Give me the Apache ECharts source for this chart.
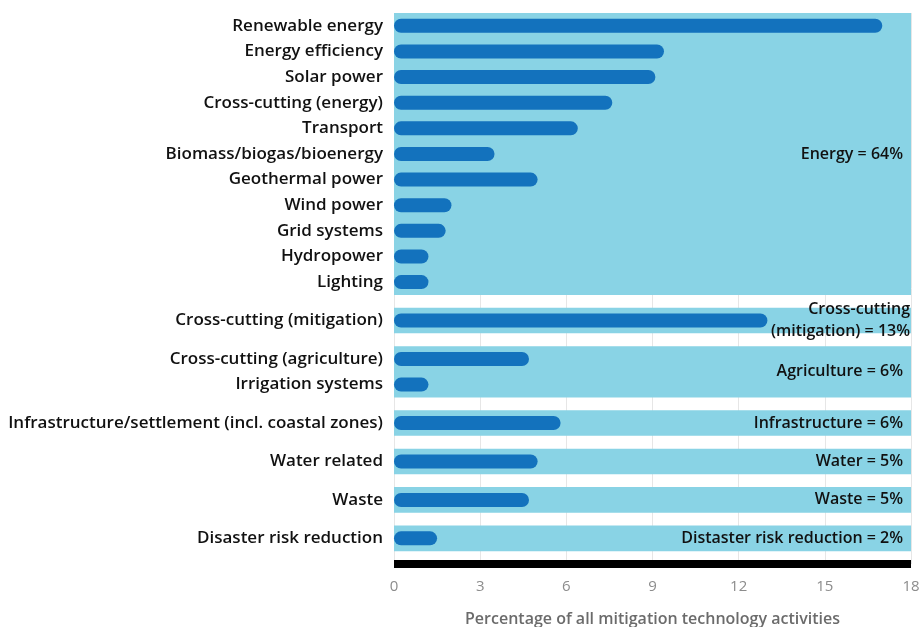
<!DOCTYPE html>
<html>
<head>
<meta charset="utf-8">
<script src="https://cdn.jsdelivr.net/npm/echarts@6/dist/echarts.min.js"></script>
<style>
  html, body { margin: 0; padding: 0; background: #fff; }
  #chart { width: 923px; height: 627px; }
</style>
</head>
<body>
<div id="chart"></div>
<script>
// technology categories, top to bottom
const categories = [
  'Renewable energy', 'Energy efficiency', 'Solar power', 'Cross-cutting (energy)',
  'Transport', 'Biomass/biogas/bioenergy', 'Geothermal power', 'Wind power',
  'Grid systems', 'Hydropower', 'Lighting',
  'Cross-cutting (mitigation)',
  'Cross-cutting (agriculture)', 'Irrigation systems',
  'Infrastructure/settlement (incl. coastal zones)',
  'Water related',
  'Waste',
  'Disaster risk reduction'
]
const values = [17.0, 9.4, 9.1, 7.6, 6.4, 3.5, 5.0, 2.0, 1.8, 1.2, 1.2, 13.0, 4.7, 1.2, 5.8, 5.0, 4.7, 1.5]

// sectors: how many categories each one holds, and its label
const groupSizes = [11, 1, 2, 1, 1, 1, 1]
const groupLabels = [
  'Energy = 64%',
  'Cross-cutting\n(mitigation) = 13%',
  'Agriculture = 6%',
  'Infrastructure = 6%',
  'Water = 5%',
  'Waste = 5%',
  'Distaster risk reduction = 2%'
]

const xMin = 0
const xMax = 18
const xStep = 3

const FONT = '"Open Sans", sans-serif'
const barColor = '#1372bd'
const bandColor = '#89d3e5'

// slot positions on the y axis: one unit per bar, half a unit between sectors
const positions = []
const bands = []
let cursor = 0
groupSizes.forEach((n) => {
  const start = cursor
  for (let i = 0; i < n; i++) {
    positions.push(cursor + 0.5)
    cursor += 1
  }
  bands.push([start, cursor])
  cursor += 0.5
})
const yMax = cursor

const labelFor = (v) => {
  const i = positions.findIndex((p) => Math.abs(p - v) < 0.01)
  return i >= 0 ? categories[i] : ''
}

const chart = echarts.init(document.getElementById('chart'))

const option = {
  backgroundColor: '#fff',
  animation: false,
  grid: {
    left: 394,
    right: 12,
    top: 13,
    bottom: 63,
    containLabel: false,
    outerBoundsMode: 'none'
  },
  xAxis: {
    type: 'value',
    position: 'bottom',
    min: xMin,
    max: xMax,
    interval: xStep,
    name: 'Percentage of all mitigation technology activities',
    nameLocation: 'middle',
    nameGap: 47,
    nameTextStyle: {
      fontFamily: FONT,
      fontSize: 16,
      fontWeight: 600,
      color: '#6b6b6b'
    },
    axisLine: {
      show: true,
      onZero: false,
      lineStyle: { color: '#000', width: 8, cap: 'butt' }
    },
    axisTick: { show: false },
    axisLabel: {
      margin: 15,
      fontFamily: FONT,
      fontSize: 15,
      color: '#8c8c8c'
    },
    splitLine: {
      show: true,
      lineStyle: { color: '#e6e6e6', width: 1 }
    }
  },
  yAxis: {
    type: 'value',
    inverse: true,
    min: 0,
    max: yMax,
    axisLine: { show: false },
    axisTick: { show: false },
    splitLine: { show: false },
    axisLabel: {
      customValues: positions,
      formatter: labelFor,
      margin: 11,
      fontFamily: FONT,
      fontSize: 17,
      fontWeight: 600,
      color: '#111'
    }
  },
  series: [
    {
      // sector bands with their totals
      type: 'custom',
      z: 1,
      clip: false,
      silent: true,
      data: bands,
      renderItem: (params, api) => {
        const topLeft = api.coord([xMin, api.value(0)])
        const bottomRight = api.coord([xMax, api.value(1)])
        const text = groupLabels[params.dataIndex]
        const multi = text.indexOf('\n') >= 0
        return {
          type: 'group',
          children: [
            {
              type: 'rect',
              shape: {
                x: topLeft[0],
                y: topLeft[1],
                width: bottomRight[0] - topLeft[0],
                height: bottomRight[1] - topLeft[1]
              },
              style: { fill: bandColor }
            },
            {
              type: 'text',
              x: bottomRight[0] - (multi ? 1 : 8),
              y: (topLeft[1] + bottomRight[1]) / 2,
              style: {
                text: text,
                align: 'right',
                verticalAlign: 'middle',
                fontFamily: FONT,
                fontSize: 16,
                fontWeight: 600,
                lineHeight: 22,
                fill: '#111'
              }
            }
          ]
        }
      }
    },
    {
      // rounded bars
      type: 'custom',
      z: 3,
      data: values.map((v, i) => [v, positions[i]]),
      renderItem: (params, api) => {
        const start = api.coord([0, api.value(1)])
        const end = api.coord([api.value(0), api.value(1)])
        const h = 14
        return {
          type: 'rect',
          shape: {
            x: start[0],
            y: start[1] - h / 2,
            width: end[0] - start[0],
            height: h,
            r: h / 2
          },
          style: { fill: barColor }
        }
      }
    }
  ]
}

chart.setOption(option)
window.addEventListener('resize', () => chart.resize())
</script>
</body>
</html>
